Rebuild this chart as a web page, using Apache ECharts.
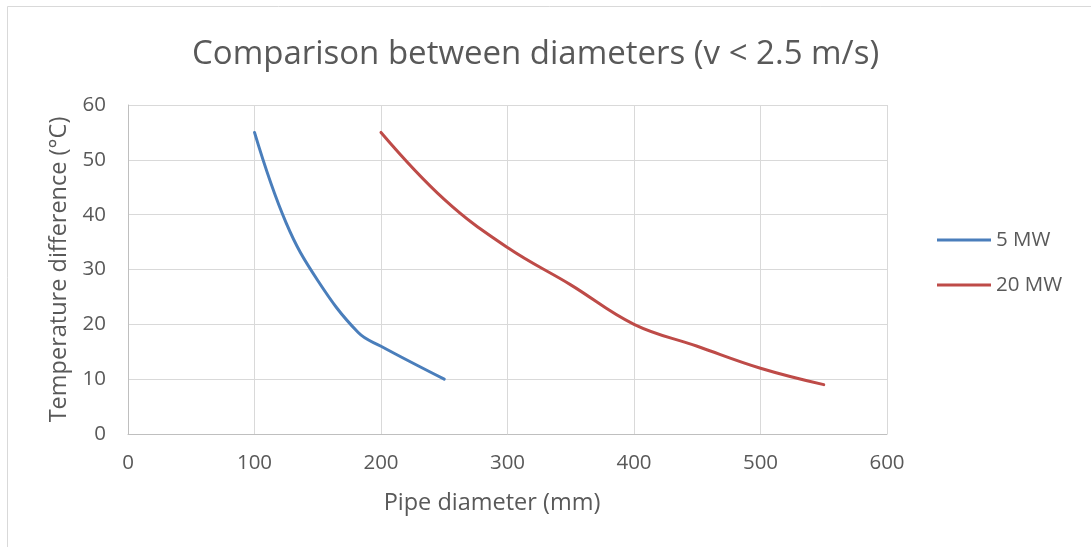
<!DOCTYPE html>
<html>
<head>
<meta charset="utf-8">
<script src="https://cdn.jsdelivr.net/npm/echarts@6/dist/echarts.min.js"></script>
<style>
html,body{margin:0;padding:0;background:#fff;}
#chart{width:1091px;height:547px;}
</style>
</head>
<body>
<div id="chart"></div>
<script>
const titleText = 'Comparison between diameters (v < 2.5 m/s)';
const xAxisName = 'Pipe diameter (mm)';
const yAxisName = 'Temperature difference (°C)';
const seriesNames = ['5 MW', '20 MW'];
const diam5MW = [100, 125, 150, 182, 200, 250];
const dT5MW = [55, 38.5, 28, 18.5, 16, 10];
const diam20MW = [200, 250, 300, 350, 400, 450, 500, 550];
const dT20MW = [55, 42.8, 34, 27.2, 20, 16, 12, 9];

const font = 'Open Sans';
const textColor = '#595959';
const blue = '#4a7ebb';
const red = '#be4b48';

const chart = echarts.init(document.getElementById('chart'));
chart.setOption({
  animation: false,
  backgroundColor: '#fff',
  textStyle: { fontFamily: font },
  title: {
    text: titleText,
    left: 187,
    top: 33,
    textStyle: { fontFamily: font, fontSize: 33, fontWeight: 'normal', color: textColor }
  },
  graphic: [{
    type: 'polyline',
    shape: { points: [[7.5, 560], [7.5, 6.5], [1100, 6.5]] },
    style: { stroke: '#d9d9d9', lineWidth: 1, fill: null },
    silent: true
  }],
  legend: {
    orient: 'vertical',
    left: 937,
    top: 228,
    padding: 0,
    icon: 'rect',
    itemWidth: 54,
    itemHeight: 3,
    itemGap: 21,
    textStyle: { fontFamily: font, fontSize: 20.5, color: textColor, lineHeight: 24 },
    data: seriesNames
  },
  grid: { left: 128, right: 204, top: 105, bottom: 113, containLabel: false },
  xAxis: {
    type: 'value',
    min: 0, max: 600, interval: 100,
    name: xAxisName,
    nameLocation: 'middle',
    nameGap: 57,
    nameTextStyle: { fontFamily: font, fontSize: 23.5, color: textColor, padding: [0, 31, 0, 0] },
    axisLine: { show: true, lineStyle: { color: '#bfbfbf', width: 1 } },
    axisTick: { show: false },
    axisLabel: { fontFamily: font, fontSize: 20.5, color: textColor, margin: 19 },
    splitLine: { show: true, lineStyle: { color: '#d9d9d9', width: 1 } }
  },
  yAxis: {
    type: 'value',
    min: 0, max: 60, interval: 10,
    name: yAxisName,
    nameLocation: 'middle',
    nameGap: 56,
    nameTextStyle: { fontFamily: font, fontSize: 23.5, color: textColor },
    axisLine: { show: true, lineStyle: { color: '#bfbfbf', width: 1 } },
    axisTick: { show: false },
    axisLabel: { fontFamily: font, fontSize: 20.5, color: textColor, margin: 22 },
    splitLine: { show: true, lineStyle: { color: '#d9d9d9', width: 1 } }
  },
  series: [
    {
      name: seriesNames[0],
      type: 'line',
      data: diam5MW.map((d, i) => [d, dT5MW[i]]),
      smooth: 0.4,
      showSymbol: false,
      symbol: 'none',
      lineStyle: { color: blue, width: 3, cap: 'round' },
      itemStyle: { color: blue }
    },
    {
      name: seriesNames[1],
      type: 'line',
      data: diam20MW.map((d, i) => [d, dT20MW[i]]),
      smooth: 0.4,
      showSymbol: false,
      symbol: 'none',
      lineStyle: { color: red, width: 3, cap: 'round' },
      itemStyle: { color: red }
    }
  ]
});
</script>
</body>
</html>
